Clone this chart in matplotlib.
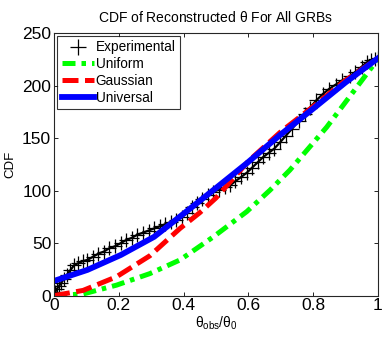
import numpy as np
import matplotlib
matplotlib.use("Agg")
import matplotlib.pyplot as plt

plt.rcParams['font.family'] = ['Liberation Sans', 'DejaVu Sans']

# Experimental CDF (sorted theta_obs/theta_0 vs count)
exp_x = [0.0, 0.003, 0.008, 0.015, 0.022, 0.031, 0.04, 0.05, 0.062, 0.075, 0.09,
         0.103, 0.12, 0.137, 0.154, 0.17, 0.188, 0.206, 0.223, 0.24, 0.257, 0.275,
         0.292, 0.309, 0.326, 0.343, 0.36, 0.378, 0.396, 0.41, 0.425, 0.44, 0.458,
         0.475, 0.492, 0.51, 0.527, 0.543, 0.56, 0.578, 0.595, 0.612, 0.629, 0.646,
         0.663, 0.68, 0.698, 0.715, 0.735, 0.755, 0.775, 0.79, 0.81, 0.83, 0.85,
         0.87, 0.89, 0.914, 0.93, 0.95, 0.965, 0.98, 0.99, 1.0]
exp_y = [0, 3, 6, 9, 12, 16, 20, 24, 29, 31, 33,
         34, 37, 40, 42, 45, 47, 50, 53, 55, 58, 60,
         62, 64, 66, 68, 70, 72, 75, 79, 84, 88, 92,
         96, 99, 101, 103, 105, 109, 113, 117, 122, 127, 132,
         136, 140, 146, 152, 159, 166, 173, 179, 186, 192, 197,
         201, 205, 209, 213, 218, 222, 224, 225, 226]

# Uniform model
uni_x = [0.0, 0.09, 0.193, 0.296, 0.389, 0.492, 0.595, 0.667, 0.728, 0.842, 0.914, 0.986, 1.0]
uni_y = [0, 1.6, 10, 21, 34, 56, 80, 100.5, 119.5, 160.5, 190, 219.5, 226]

# Gaussian model
gau_x = [0.0, 0.09, 0.193, 0.296, 0.389, 0.45, 0.5, 0.6, 0.7, 0.8, 0.9, 1.0]
gau_y = [0, 5, 18, 38, 64, 79, 93, 128, 156, 180, 205, 226]

# Universal model
unv_x = [0.0, 0.103, 0.206, 0.309, 0.396, 0.492, 0.595, 0.698, 0.8, 0.9, 1.0]
unv_y = [14, 24.5, 38.7, 56, 77, 100.5, 126, 153, 178, 203, 226]

fig = plt.figure(figsize=(3.9, 3.41), dpi=100)
ax = fig.add_axes([0.1385, 0.133, 0.8305, 0.77])

# black band of the experimental points
ax.plot(exp_x, exp_y, color='black', linestyle='-', linewidth=1.6)
ax.plot(exp_x, exp_y, color='black', linestyle='none',
        marker='+', markersize=10, markeredgewidth=0.9, label='Experimental')
ax.plot(uni_x, uni_y, color='#00ff00', linewidth=3.6,
        linestyle=(0, (2.6, 1.2, 0.9, 1.2)), label='Uniform')
ax.plot(gau_x, gau_y, color='red', linewidth=3.6,
        linestyle=(0, (3.2, 1.3)), label='Gaussian')
ax.plot(unv_x, unv_y, color='blue', linewidth=4.2, label='Universal')

ax.set_xlim(0, 1)
ax.set_ylim(0, 250)
ax.set_xticks([0, 0.2, 0.4, 0.6, 0.8, 1])
ax.set_xticklabels(['0', '0.2', '0.4', '0.6', '0.8', '1'])
ax.set_yticks([0, 50, 100, 150, 200, 250])
ax.tick_params(direction='in', top=True, right=True, labelsize=12.5,
               length=3, width=0.6, pad=2)
for s in ax.spines.values():
    s.set_linewidth(0.8)
    s.set_color('#262626')

ax.set_title(r'CDF of Reconstructed $\mathregular{\theta}$ For All GRBs',
             fontsize=10, pad=8)
ax.set_ylabel('CDF', fontsize=9.5, labelpad=4)
ax.set_xlabel(r'$\mathregular{\theta_{obs}/\theta_0}$', fontsize=10, labelpad=1)

leg = ax.legend(loc='upper left', bbox_to_anchor=(0.009, 0.99), fontsize=9.8,
                frameon=True, fancybox=False, edgecolor='black',
                handlelength=2.4, handletextpad=0.1, borderpad=0.35,
                labelspacing=0.2, borderaxespad=0, markerscale=1.2)
leg.get_frame().set_linewidth(0.8)

fig.savefig('out.png', dpi=100)
